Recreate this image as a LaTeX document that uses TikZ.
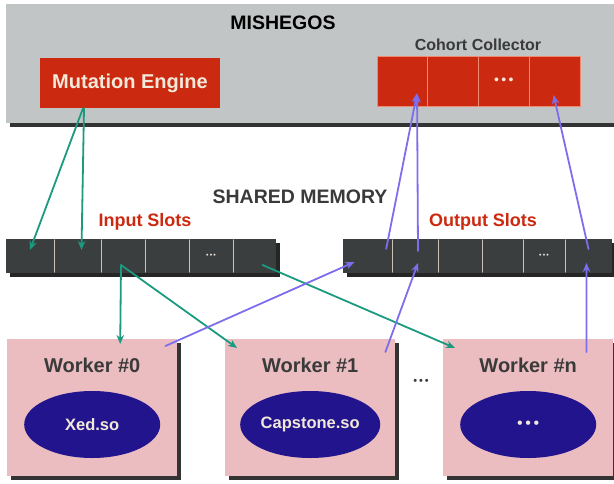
\documentclass[tikz,border=0pt]{standalone}
\usepackage{fontspec}
\setmainfont{Liberation Sans}
\usetikzlibrary{shapes.geometric,shadows,arrows.meta}

\definecolor{panelgray}{HTML}{C1C5C5}
\definecolor{engred}{HTML}{CC2A10}
\definecolor{cellline}{HTML}{F08A72}
\definecolor{slotdark}{HTML}{3B3E3F}
\definecolor{slotline}{HTML}{C9C2B5}
\definecolor{workpink}{HTML}{EBBDC1}
\definecolor{libnavy}{HTML}{22148C}
\definecolor{cream}{HTML}{F3E9DA}
\definecolor{inkgray}{HTML}{3A3A3A}
\definecolor{tealarr}{HTML}{1C9A80}
\definecolor{violarr}{HTML}{7D6EEE}

\def\slotY{256}
\def\slotH{34}

\tikzset{
  hard shadow/.style={drop shadow={shadow xshift=#1, shadow yshift=-#1,
      fill=black!80, opacity=1}},
  heading/.style={font=\bfseries\fontsize{19.5}{23}\selectfont, inner sep=0pt},
  slotlabel/.style={font=\bfseries\fontsize{18}{21}\selectfont, text=engred, inner sep=0pt},
  redcell/.style={fill=engred, draw=cellline, line width=0.6pt, inner sep=0pt,
      minimum height=50, text=cream},
  slotcell/.style={fill=slotdark, inner sep=0pt, minimum height=\slotH,
      text=cream, font=\fontsize{13}{13}\selectfont},
  worker/.style={fill=workpink, minimum width=170, minimum height=137,
      anchor=north west, inner sep=0pt, hard shadow=4pt},
  workertitle/.style={font=\bfseries\fontsize{20}{24}\selectfont, text=inkgray, inner sep=0pt},
  lib/.style={ellipse, fill=libnavy, minimum width=136, minimum height=67,
      text=cream, font=\bfseries\fontsize{16.5}{20}\selectfont, inner sep=0pt},
  feed/.style={->, tealarr, line width=1.8pt},
  collect/.style={->, violarr, line width=1.8pt},
}

\begin{document}
\begin{tikzpicture}[x=1pt, y=-1pt, >={Stealth[length=9pt,width=7.5pt]},
                    line cap=round]

    \useasboundingbox (0,0) rectangle (614,483);

    \node [fill=panelgray, minimum width=616, minimum height=119, anchor=north west,
           inner sep=0pt, hard shadow=4pt] (mishegos) at (6,4) {};
    \node [heading, text=black] (mtitle) at (283,23) {MISHEGOS};

    \node [redcell, draw=none, minimum width=180, font=\bfseries\fontsize{20}{24}\selectfont]
        (engine) at (130,83) {Mutation Engine};

    \node [font=\bfseries\fontsize{16}{19}\selectfont, text=inkgray, inner sep=0pt]
        (cctitle) at (478,45) {Cohort Collector};
    \foreach \i [evaluate={\cx=377+(\i-0.5)*50.75;}] in {1,...,4}{
        \node [redcell, minimum width=50.75] (col\i) at (\cx,81) {};
    }
    \node [text=cream, font=\fontsize{14}{14}\selectfont, inner sep=0pt] (coldots) at (col3)
        {\textbullet\,\textbullet\,\textbullet};

    \node [heading, text=inkgray] (shared) at (300,197) {SHARED MEMORY};
    \node [slotlabel] (inlabel) at (145,222) {Input Slots};
    \node [slotlabel] (outlabel) at (483,222) {Output Slots};

    \fill [black!85] (10,243) rectangle (280,277);
    \foreach \a/\b [count=\i] in {6/54,54/101,101/145,145/189,189/233,233/276}{
        \node [slotcell, minimum width={(\b-\a)*1pt}] (in\i) at ({(\a+\b)/2},\slotY) {};
    }
    \fill [black!85] (347,243) rectangle (616,277);
    \foreach \a/\b [count=\i] in {343/392,392/438,438/482,482/523,523/565,565/612}{
        \node [slotcell, minimum width={(\b-\a)*1pt}] (out\i) at ({(\a+\b)/2},\slotY) {};
    }
    \foreach \i in {1,...,5}{
        \draw [slotline, line width=0.7pt] ([yshift=-1pt]in\i.north east) -- ([yshift=1pt]in\i.south east);
        \draw [slotline, line width=0.7pt] ([yshift=-1pt]out\i.north east) -- ([yshift=1pt]out\i.south east);
    }
    \node [text=cream, font=\fontsize{7}{7}\selectfont, inner sep=0pt] (indots) at (in5)
        {\textbullet\,\textbullet\,\textbullet};
    \node [text=cream, font=\fontsize{7}{7}\selectfont, inner sep=0pt] (outdots) at (out5)
        {\textbullet\,\textbullet\,\textbullet};

    \node [worker] (w0) at (7,339) {};
    \node [worker] (w1) at (225,339) {};
    \node [worker] (wn) at (443,339) {};
    \node [workertitle] (w0title) at ([yshift=-26pt]w0.north) {Worker \#0};
    \node [workertitle] (w1title) at ([yshift=-26pt]w1.north) {Worker \#1};
    \node [workertitle] (wntitle) at ([yshift=-26pt]wn.north) {Worker \#n};
    \node [lib] (lib0) at ([yshift=-85.5pt]w0.north) {Xed.so};
    \node [lib] (lib1) at ([yshift=-85.5pt]w1.north) {Capstone.so};
    \node [lib, font=\fontsize{16}{16}\selectfont] (libn) at ([yshift=-85.5pt]wn.north)
        {\textbullet\,\textbullet\,\textbullet};
    \node [text=inkgray, font=\fontsize{11}{11}\selectfont, inner sep=0pt] (wgap) at (421,382)
        {\textbullet\,\textbullet\,\textbullet};

    \draw [feed] ([xshift=-47pt]engine.south) -- ([yshift=6pt]in1.center);
    \draw [feed] ([xshift=-46pt]engine.south) -- ([shift={(4pt,6pt)}]in2.center);
    \draw [feed] ([shift={(-2pt,-9pt)}]in3.center) -- ([shift={(28pt,-5pt)}]w0.north);
    \draw [feed] ([shift={(-2pt,-9pt)}]in3.center) -- ([shift={(12pt,-9pt)}]w1.north west);
    \draw [feed] ([shift={(8pt,-9pt)}]in6.center) -- ([shift={(12pt,-9pt)}]wn.north west);

    \draw [collect] ([shift={(-12pt,-7pt)}]w0.north east) -- ([shift={(-13pt,-6pt)}]out1.center);
    \draw [collect] ([shift={(-6pt,-10pt)}]out1.north east) -- ([shift={(-11pt,13pt)}]col1.south east);
    \draw [collect] ([shift={(3pt,5pt)}]out2.center) -- ([shift={(-11pt,13pt)}]col1.south east);
    \draw [collect] ([shift={(-10pt,-13pt)}]w1.north east) -- ([shift={(3pt,-7pt)}]out2.center);
    \draw [collect] ([yshift=7pt]out6.center) -- ([shift={(-1pt,-14pt)}]col4.center);
    \draw [collect] ([shift={(-27pt,-13pt)}]wn.north east) -- ([shift={(-2pt,-7pt)}]out6.center);

\end{tikzpicture}
\end{document}
